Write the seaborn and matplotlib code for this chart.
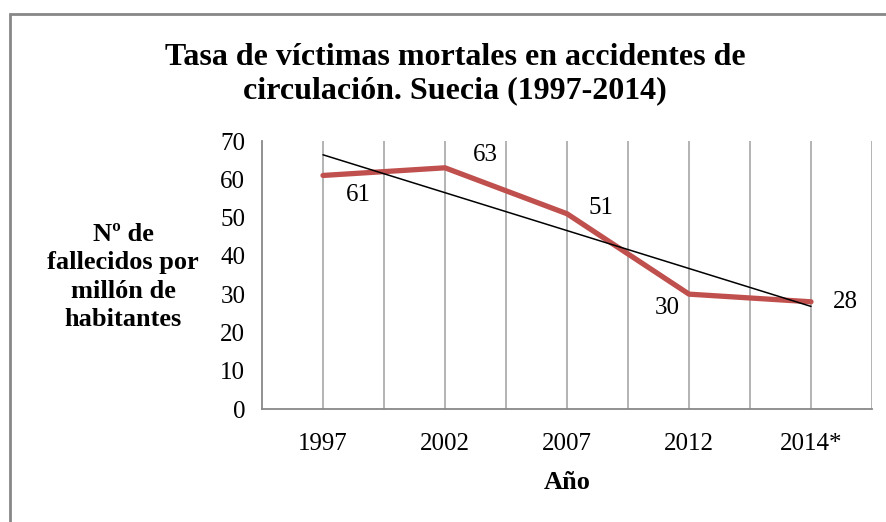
import numpy as np
import pandas as pd
import seaborn as sns
import matplotlib
matplotlib.use("Agg")
import matplotlib.pyplot as plt
from matplotlib.patches import Rectangle

# ---- data ----
years = ["1997", "2002", "2007", "2012", "2014*"]
rates = [61, 63, 51, 30, 28]
# data label offsets in pixels (dx, dy) relative to each point
label_offsets = [(35, -20), (40, 13), (34, 6), (-22, -14), (34, 0)]

title = "Tasa de víctimas mortales en accidentes de\ncirculación. Suecia (1997-2014)"
ylabel = "Nº de\nfallecidos por\nmillón de\nhabitantes"
xlabel = "Año"

sns.set_theme(style="white")
plt.rcParams["font.family"] = ["Liberation Serif", "DejaVu Serif"]
plt.rcParams["text.color"] = "black"
plt.rcParams["axes.labelcolor"] = "black"

W, H = 886, 522
fig = plt.figure(figsize=(W / 100, H / 100), dpi=100)
ax = fig.add_axes([262 / W, (H - 409) / H, (872 - 262) / W, (409 - 141) / H])

pos = np.arange(len(years))
df = pd.DataFrame({"pos": pos, "rate": rates})

# vertical gridlines at categories and boundaries
grid_c = "#B3B3B3"
for x in np.arange(0, len(years), 0.5):
    ax.axvline(x, color=grid_c, lw=1.4, zorder=0)

sns.lineplot(data=df, x="pos", y="rate", ax=ax, color="#C0504D", lw=3.8,
             solid_capstyle="round", zorder=3)

# linear trendline
coef = np.polyfit(pos, rates, 1)
ax.plot(pos, np.polyval(coef, pos), color="black", lw=1.1, zorder=4)

for x, v, (dx, dy) in zip(pos, rates, label_offsets):
    ax.annotate(str(v), (x, v), xytext=(dx, dy), textcoords="offset pixels",
                ha="center", va="center", fontsize=18, color="black")

ax.set_xlim(-0.5, len(years) - 0.5)
ax.set_ylim(0, 70)
ax.set_yticks(np.arange(0, 71, 10))
ax.set_yticklabels([str(v) for v in range(0, 71, 10)], fontsize=18)
ax.set_xticks(pos)
ax.set_xticklabels(years, fontsize=18)
ax.set_xticks(np.arange(-0.5, len(years), 1.0), minor=True)
ax.tick_params(axis="x", which="major", length=0, pad=17)
ax.tick_params(axis="x", which="minor", length=7, width=1.3, color="#888888", direction="out")
ax.tick_params(axis="y", length=7, width=1.3, color="#888888", direction="out", pad=5)
ax.tick_params(labelcolor="black")
ax.set_xlabel(xlabel, fontsize=19, fontweight="bold", labelpad=12)
ax.set_ylabel("")

for s in ["top", "right"]:
    ax.spines[s].set_visible(False)
for s in ["left", "bottom"]:
    ax.spines[s].set_color("#888888")
    ax.spines[s].set_linewidth(1.3)

fig.text(123 / W, 1 - 277 / H, ylabel, ha="center", va="center", fontsize=19,
         fontweight="bold", linespacing=1.3)
fig.text(455 / W, 1 - 74 / H, title, ha="center", va="center", fontsize=23,
         fontweight="bold", linespacing=1.22)

# outer chart border
fig.patches.append(Rectangle((10 / W, -0.1), 1.1, 1 - 14 / H + 0.1, transform=fig.transFigure,
                             fill=False, edgecolor="#878787", lw=2))

fig.savefig("out.png", dpi=100)
